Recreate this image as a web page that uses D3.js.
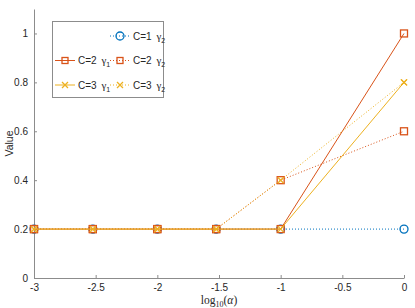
<!DOCTYPE html>
<html><head><meta charset="utf-8">
<script src="https://cdn.jsdelivr.net/npm/d3@7"></script>
<style>body{margin:0;background:#fff}svg{display:block}</style>
</head><body>
<script>
const alphas = [0.001, 0.003, 0.01, 0.03, 0.1, 1];
const c1g2 = [0.2, 0.2, 0.2, 0.2, 0.2, 0.2];
const c2g1 = [0.2, 0.2, 0.2, 0.2, 0.2, 1.0];
const c2g2 = [0.2, 0.2, 0.2, 0.2, 0.4, 0.6];
const c3g1 = [0.2, 0.2, 0.2, 0.2, 0.2, 0.8];
const c3g2 = [0.2, 0.2, 0.2, 0.2, 0.4, 0.8];
const xTicks = [-3, -2.5, -2, -1.5, -1, -0.5, 0];
const yTicks = [0, 0.2, 0.4, 0.6, 0.8, 1];

const series = [
  {name: "C=1", g: "2", vals: c1g2, color: "#0072BD", dash: true, marker: "o"},
  {name: "C=2", g: "1", vals: c2g1, color: "#D95319", dash: false, marker: "s"},
  {name: "C=2", g: "2", vals: c2g2, color: "#D95319", dash: true, marker: "s"},
  {name: "C=3", g: "1", vals: c3g1, color: "#EDB120", dash: false, marker: "x"},
  {name: "C=3", g: "2", vals: c3g2, color: "#EDB120", dash: true, marker: "x"}
];

const W = 415, H = 308;
const svg = d3.select("body").append("svg").attr("width", W).attr("height", H);
const x = d3.scaleLinear().domain([-3, 0]).range([34, 404]);
const y = d3.scaleLinear().domain([0, 1.1]).range([278, 9]);

const axisCol = "#8c8c8c", textCol = "#262626";
const font = "Liberation Sans, Arial, sans-serif";
const fmt = d => String(d);

const gx = svg.append("g").attr("transform", `translate(0,${y(0)})`)
  .call(d3.axisBottom(x).tickValues(xTicks).tickSizeInner(-3).tickSizeOuter(0).tickPadding(6).tickFormat(fmt));
const gy = svg.append("g").attr("transform", `translate(${x(-3)},0)`)
  .call(d3.axisLeft(y).tickValues(yTicks).tickSizeInner(-3).tickSizeOuter(0).tickPadding(6).tickFormat(fmt));
[gx, gy].forEach(g => {
  g.select(".domain").attr("stroke", axisCol);
  g.selectAll(".tick line").attr("stroke", axisCol);
  g.selectAll(".tick text").attr("fill", textCol).style("font-family", font).style("font-size", "10px");
});

svg.append("text").attr("transform", `translate(13,${(y(0)+y(1.1))/2}) rotate(-90)`)
  .attr("text-anchor", "middle").attr("fill", textCol).style("font-family", font).style("font-size", "10.5px").text("Value");

const xl = svg.append("text").attr("x", 219).attr("y", 304).attr("text-anchor", "middle")
  .attr("fill", textCol).style("font-family", "Liberation Serif, Times New Roman, serif").style("font-size", "11.5px");
xl.append("tspan").text("log");
xl.append("tspan").attr("dy", 2.5).style("font-size", "8px").text("10");
xl.append("tspan").attr("dy", -2.5).text("(");
xl.append("tspan").style("font-style", "italic").text("α");
xl.append("tspan").text(")");

function drawMarker(g, m, cx, cy, color, size) {
  const r = size / 2;
  if (m === "o") g.append("circle").attr("cx", cx).attr("cy", cy).attr("r", r).attr("fill", "none").attr("stroke", color).attr("stroke-width", 1.3);
  else if (m === "s") g.append("rect").attr("x", cx - r).attr("y", cy - r).attr("width", 2*r).attr("height", 2*r).attr("fill", "none").attr("stroke", color).attr("stroke-width", 1.3);
  else if (m === "x") g.append("path").attr("d", `M${cx-r},${cy-r}L${cx+r},${cy+r}M${cx-r},${cy+r}L${cx+r},${cy-r}`).attr("stroke", color).attr("stroke-width", 1.3);
}

const line = d3.line().x(d => x(d[0])).y(d => y(d[1]));
const plot = svg.append("g");
series.forEach(s => {
  const pts = alphas.map((a, i) => [Math.log10(a), s.vals[i]]);
  plot.append("path").attr("d", line(pts)).attr("fill", "none").attr("stroke", s.color)
    .attr("stroke-width", 1).attr("stroke-dasharray", s.dash ? "1,2" : null);
  const mg = plot.append("g");
  pts.forEach(p => drawMarker(mg, s.marker, x(p[0]), y(p[1]), s.color, s.marker === "o" ? 8 : (s.marker === "x" ? 6 : 7)));
});

// legend
const lg = svg.append("g");
lg.append("rect").attr("x", 52.5).attr("y", 21.5).attr("width", 111).attr("height", 76)
  .attr("fill", "#fff").attr("stroke", "#8c8c8c").attr("stroke-width", 1);
const slots = [[1,0],[0,1],[1,1],[0,2],[1,2]];
series.forEach((s, i) => {
  const [c, r] = slots[i];
  const lx = 55 + c * 55, ly = 36 + r * 24.5;
  lg.append("line").attr("x1", lx).attr("x2", lx + 20).attr("y1", ly).attr("y2", ly)
    .attr("stroke", s.color).attr("stroke-width", 1).attr("stroke-dasharray", s.dash ? "1,2" : null);
  drawMarker(lg, s.marker, lx + 10, ly, s.color, s.marker === "o" ? 8 : 6);
  const t = lg.append("text").attr("x", lx + 23).attr("y", ly + 3.5).attr("fill", textCol)
    .style("font-family", font).style("font-size", "10px");
  t.append("tspan").text(s.name + " ");
  t.append("tspan").attr("dx", 2).style("font-family", "Liberation Serif, serif").style("font-size", "11px").text("γ");
  t.append("tspan").attr("dy", 3).style("font-size", "7px").text(s.g);
});
</script>
</body></html>
